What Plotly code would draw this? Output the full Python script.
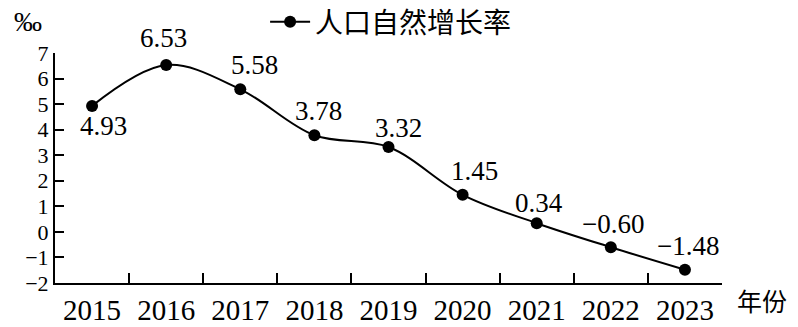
import plotly.graph_objects as go

years = ["2015", "2016", "2017", "2018", "2019", "2020", "2021", "2022", "2023"]
rates = [4.93, 6.53, 5.58, 3.78, 3.32, 1.45, 0.34, -0.60, -1.48]
labels = ["4.93", "6.53", "5.58", "3.78", "3.32", "1.45", "0.34", "−0.60", "−1.48"]
series_name = "人口自然增长率"
y_ticks = [-2, -1, 0, 1, 2, 3, 4, 5, 6, 7]

# label offsets (px) relative to each point
label_dx = [11, -3, 14, 4, 10, 12, 2, 2, 3]
label_dy = [-20, 27, 24, 24, 19, 24, 20, 23, 24]

SERIF = "Liberation Serif"
CJK = "Noto Sans CJK SC"

fig = go.Figure()
fig.add_trace(go.Scatter(
    x=years, y=rates, mode="lines+markers", name=series_name,
    line=dict(color="black", width=2, shape="spline", smoothing=1),
    marker=dict(color="black", size=12),
))

annotations = []
for i, (y, t, dx, dy) in enumerate(zip(rates, labels, label_dx, label_dy)):
    annotations.append(dict(x=i, y=y, xref="x", yref="y", text=t, showarrow=False,
                            xshift=dx, yshift=dy,
                            font=dict(family=SERIF, size=27, color="black")))
annotations.append(dict(x=-0.065, y=1.135, xref="paper", yref="paper", text="‰",
                        showarrow=False, xanchor="left", yanchor="middle",
                        font=dict(family=SERIF, size=28, color="black")))
annotations.append(dict(xref="paper", yref="paper", x=1.02, y=-0.074, text="年份",
                        showarrow=False, xanchor="left", yanchor="middle",
                        font=dict(family=CJK, size=25, color="black")))

fig.update_layout(
    width=798, height=327,
    margin=dict(l=55, r=76, t=53, b=44, autoexpand=False),
    paper_bgcolor="white", plot_bgcolor="white",
    showlegend=True,
    legend=dict(orientation="h", x=0.315, y=1.135, xanchor="left", yanchor="middle",
                font=dict(family=CJK, size=28, color="black"),
                bgcolor="rgba(0,0,0,0)", itemwidth=40),
    annotations=annotations,
)
fig.update_xaxes(
    type="category", range=[-0.5, 8.5], showline=True, linecolor="black", linewidth=2,
    ticks="inside", tickson="boundaries", ticklen=10, tickwidth=1.5, tickcolor="black",
    showgrid=False, zeroline=False, automargin=False,
    tickfont=dict(family=SERIF, size=29, color="black"),
)
fig.update_yaxes(
    range=[-2, 7], tickvals=y_ticks, showline=True, linecolor="black", linewidth=2,
    ticks="inside", ticklen=9, tickwidth=2, tickcolor="black",
    showgrid=False, zeroline=False, automargin=False,
    tickfont=dict(family=SERIF, size=22, color="black"),
)
fig.write_html("out.html")
